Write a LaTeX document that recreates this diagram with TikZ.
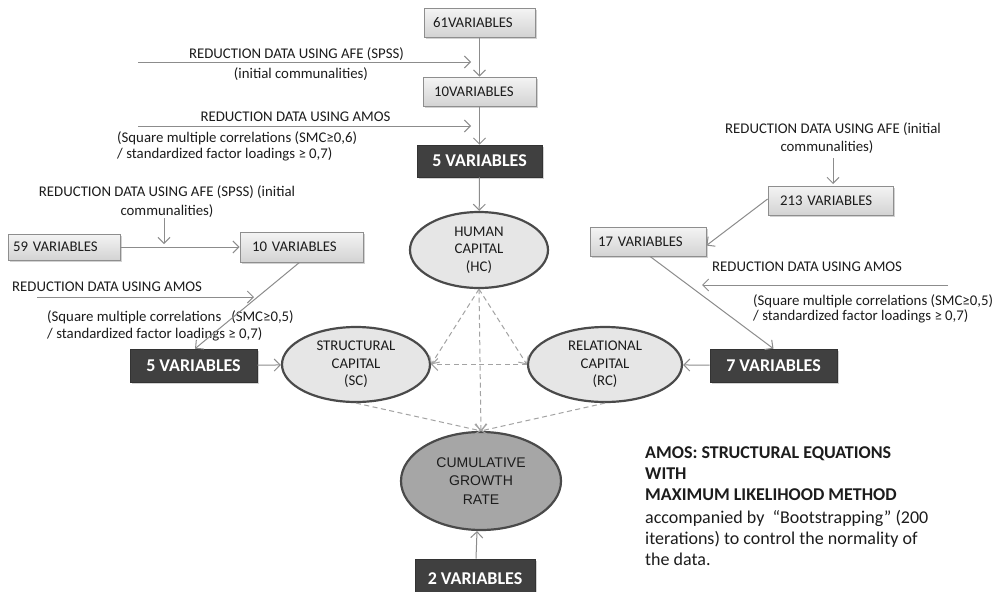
\documentclass[tikz,border=0pt]{standalone}
\usepackage{fontspec}
\setmainfont{Carlito}
\newfontfamily\arialfont{Liberation Sans}
\usetikzlibrary{shapes.geometric,arrows.meta,shadows}

\definecolor{ink}{HTML}{1C1C1C}
\definecolor{boxedge}{HTML}{8E8E8E}
\definecolor{boxtop}{HTML}{F4F4F4}
\definecolor{boxbot}{HTML}{D3D3D3}
\definecolor{darkfill}{HTML}{404040}
\definecolor{ellfill}{HTML}{E6E6E6}
\definecolor{ellmid}{HTML}{A6A6A6}
\definecolor{elledge}{HTML}{4A4A4A}
\definecolor{wire}{HTML}{8C8C8C}
\definecolor{dashwire}{HTML}{A3A3A3}

\tikzset{
  lbl/.style={font=\fontsize{14.8}{17}\selectfont, text=ink, inner sep=0pt},
  greybox/.style={draw=boxedge, line width=0.8pt, top color=boxtop, bottom color=boxbot,
    minimum height=29pt, inner xsep=9pt, inner ysep=0pt, align=left,
    font=\fontsize{14.8}{17}\selectfont, text=ink,
    drop shadow={shadow xshift=1.5pt, shadow yshift=-1.5pt, opacity=0.35}},
  darkbox/.style={draw=darkfill!80!black, line width=0.6pt, fill=darkfill,
    minimum height=32pt, inner sep=0pt, text=white,
    font=\fontsize{18}{20}\selectfont\bfseries,
    drop shadow={shadow xshift=2pt, shadow yshift=-2pt, opacity=0.35}},
  capital/.style={ellipse, draw=elledge, line width=2.2pt, fill=ellfill, inner sep=0pt,
    align=center, text=ink, font=\fontsize{14.8}{17.5}\selectfont},
  flow/.style={draw=wire, line width=1pt, -{Straight Barb[length=6pt,width=12pt]}},
  link/.style={draw=dashwire, line width=1pt, dash pattern=on 5pt off 3.5pt,
    -{Straight Barb[length=6pt,width=12pt]}}
}

\begin{document}
\begin{tikzpicture}[x=1pt,y=-1pt]
\useasboundingbox (0,0) rectangle (997,592);
\clip (0,0) rectangle (997,592);
\fill[white] (0,0) rectangle (997,592);

% ---------- human capital branch ----------
\node[greybox, text width=93pt] (v61) at (479.5,22.5) {61VARIABLES};
\node[greybox, text width=91pt, inner xsep=11pt] (v10a) at (479.5,91.5) {10VARIABLES};
\node[darkbox, minimum width=125pt] (v5a) at (479.5,161) {5 VARIABLES};

\node[lbl, anchor=base] (t1) at (296.5,58) {REDUCTION DATA USING AFE (SPSS)};
\node[lbl, anchor=base] (t2) at (301,78) {(initial communalities)};
\node[lbl, anchor=base] (t3) at (295.5,121) {REDUCTION DATA USING AMOS};
\node[lbl, anchor=base west] (t4) at (117,142) {(Square multiple correlations (SMC≥0,6)};
\node[lbl, anchor=base west] (t5) at (117,158) {/ standardized factor loadings ≥ 0,7)};

\coordinate (a1s) at (138,62);  \coordinate (a1e) at (471,62);
\coordinate (a2s) at (138,126); \coordinate (a2e) at (471,126);
\draw[flow] (a1s) -- (a1e);
\draw[flow] (a2s) -- (a2e);
\draw[flow] (v61) -- (v10a);
\draw[flow] (v10a) -- (v5a);

% ---------- structural capital branch ----------
\node[lbl, anchor=base] (t6) at (167,196) {REDUCTION DATA USING AFE (SPSS) (initial};
\node[lbl, anchor=base] (t7) at (167,215) {communalities)};
\coordinate (a3s) at (164,218); \coordinate (a3e) at (164,244);
\draw[flow] (a3s) -- (a3e);

\node[greybox, text width=102pt, inner xsep=5pt, minimum height=26pt] (v59) at (64,247) {59 VARIABLES};
\node[greybox, text width=99pt, inner xsep=12pt, minimum height=30pt] (v10b) at (301.5,247) {10 VARIABLES};
\draw[flow] (v59) -- (v10b);

\node[lbl, anchor=base west] (t8) at (12,291) {REDUCTION DATA USING AMOS};
\coordinate (a4s) at (37,297); \coordinate (a4e) at (254,297);
\draw[flow] (a4s) -- (a4e);
\node[lbl, anchor=base west] (t9) at (47,321) {(Square multiple correlations \ \ (SMC≥0,5)};
\node[lbl, anchor=base west] (t10) at (47,338) {/ standardized factor loadings ≥ 0,7)};

\node[darkbox, minimum width=127pt, minimum height=33pt] (v5b) at (193.5,365.5) {5 VARIABLES};
\draw[flow] ([xshift=-2pt]v10b.south) -- ([xshift=1.5pt]v5b.north);

% ---------- relational capital branch ----------
\node[lbl, anchor=base] (t11) at (833,133) {REDUCTION DATA USING AFE (initial};
\node[lbl, anchor=base] (t12) at (827,151) {communalities)};
\coordinate (a5s) at (833,158); \coordinate (a5e) at (833,184);
\draw[flow] (a5s) -- (a5e);

\node[greybox, text width=101pt, inner xsep=12pt] (v213) at (830.5,200.5) {213 VARIABLES};
\node[greybox, text width=100pt, inner xsep=8pt] (v17) at (648,241.5) {17 VARIABLES};
\draw[flow] ([yshift=1.5pt]v213.west) -- ([yshift=-4pt]v17.east);

\node[lbl, anchor=base west] (t13) at (712,271) {REDUCTION DATA USING AMOS};
\coordinate (a6s) at (948,285); \coordinate (a6e) at (702,285);
\draw[flow] (a6s) -- (a6e);
\node[lbl, anchor=base west] (t14) at (753,305) {(Square multiple correlations (SMC≥0,5)};
\node[lbl, anchor=base west] (t15) at (753,320) {/ standardized factor loadings ≥ 0,7)};

\node[darkbox, minimum width=127pt, minimum height=33pt] (v7) at (773.5,365.5) {7 VARIABLES};
\draw[flow] ([xshift=2pt]v17.south) -- (v7.north);

% ---------- latent constructs ----------
\node[capital, minimum width=138pt, minimum height=76pt] (hc) at (479,250) {HUMAN\\CAPITAL\\(HC)};
\node[capital, minimum width=148pt, minimum height=75pt] (sc) at (356,364.5) {STRUCTURAL\\CAPITAL\\(SC)};
\node[capital, minimum width=154pt, minimum height=75pt] (rc) at (605,364.5) {RELATIONAL\\CAPITAL\\(RC)};
\node[capital, fill=ellmid, minimum width=160pt, minimum height=98pt,
      font=\arialfont\fontsize{14}{18.5}\selectfont] (cgr) at (481,481) {CUMULATIVE\\GROWTH\\RATE};

\draw[flow] (v5a) -- (hc);
\draw[flow] (v5b) -- (sc);
\draw[flow] (v7) -- (rc);

\node[darkbox, minimum width=120pt, minimum height=40pt] (v2) at (475,579) {2 VARIABLES};
\draw[flow] ([xshift=1pt]v2.north) -- ([xshift=-4pt]cgr.south);

% dashed structural paths
\draw[link] (hc.south) -- (sc.east);
\draw[link] (hc.south) -- (rc.west);
\draw[link] (hc.south) -- (cgr.north);
\draw[link] (rc.west) -- (sc.east);
\draw[link] (sc.south) -- (cgr.north);
\draw[link] (rc.south) -- (cgr.north);

% ---------- method note ----------
\node[anchor=north west, inner sep=0pt, align=left, text=ink,
      font=\fontsize{18}{21}\selectfont] (note) at (645,446)
  {\textbf{AMOS: STRUCTURAL EQUATIONS}\\
   \textbf{WITH}\\
   \textbf{MAXIMUM LIKELIHOOD METHOD}\\[2pt]
   accompanied by \ “Bootstrapping” (200\\
   iterations) to control the normality of\\
   the data.};
\end{tikzpicture}
\end{document}
